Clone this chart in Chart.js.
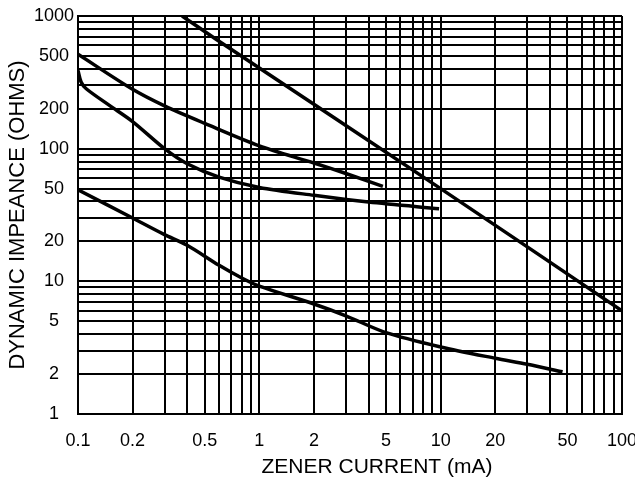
<!DOCTYPE html>
<html>
<head>
<meta charset="utf-8">
<script src="https://cdn.jsdelivr.net/npm/chart.js@4.4.0/dist/chart.umd.min.js"></script>
<style>
  html, body { margin: 0; padding: 0; background: #fff; }
  #wrap { width: 635px; height: 481px; position: relative; }
</style>
</head>
<body>
<div id="wrap"><canvas id="zener"></canvas></div>
<script>
/* current in mA, impedance in ohms */
const curveAI = [0.375, 0.62, 10, 100];
const curveAZ = [1000, 625, 50, 6];
const curveBI = [0.1, 0.2, 0.3, 0.5, 1, 2, 3, 4.8];
const curveBZ = [515, 280, 210, 155, 105, 78, 65, 52];
const curveCI = [0.1, 0.104, 0.111, 0.149, 0.2, 0.3, 0.4, 0.6, 1, 2, 4, 9.8];
const curveCZ = [389, 318, 283, 212, 160, 100, 77, 61, 51, 44.5, 39.6, 35.3];
const curveDI = [0.1, 0.2, 0.3, 0.4, 0.6, 0.8, 1, 2, 3, 5, 10, 20, 30, 47];
const curveDZ = [49, 30, 22.5, 18.7, 13.2, 10.6, 9.2, 6.75, 5.5, 4.1, 3.2, 2.63, 2.37, 2.08];

const xTickValues = [0.1, 0.2, 0.5, 1, 2, 5, 10, 20, 50, 100];
const xTickLabels = ['0.1', '0.2', '0.5', '1', '2', '5', '10', '20', '50', '100'];
const yTickValues = [1, 2, 5, 10, 20, 50, 100, 200, 500, 1000];
const yTickLabels = ['1', '2', '5', '10', '20', '50', '100', '200', '500', '1000'];

const xTitle = 'ZENER CURRENT (mA)';
const yTitle = 'DYNAMIC IMPEANCE (OHMS)';

// 1..9 per decade, for the grid
function decadeGrid(first, last) {
  const out = [];
  for (let d = first; d < last; d *= 10) {
    for (let m = 1; m < 10; m++) out.push(+(m * d).toPrecision(6));
  }
  out.push(last);
  return out;
}
const xGrid = decadeGrid(0.1, 100);
const yGrid = decadeGrid(1, 1000);

function labelFor(v, values, labels) {
  const i = values.findIndex(t => Math.abs(t - v) / t < 1e-6);
  return i < 0 ? '' : labels[i];
}

function toPoints(xs, ys) {
  return xs.map((x, i) => ({ x: x, y: ys[i] }));
}

function curve(xs, ys) {
  return {
    data: toPoints(xs, ys),
    borderColor: '#000',
    borderWidth: 3.5,
    pointRadius: 0,
    fill: false,
    tension: 0.3
  };
}

const FONT = '"Liberation Sans", Arial, sans-serif';
Chart.defaults.font.family = FONT;
Chart.defaults.color = '#000';

// x title sits right of the plot centre on the original
const xTitlePlugin = {
  id: 'xTitle',
  afterDraw(chart) {
    const { ctx, chartArea } = chart;
    ctx.save();
    ctx.font = '21px ' + FONT;
    ctx.fillStyle = '#000';
    ctx.textAlign = 'center';
    ctx.textBaseline = 'middle';
    ctx.fillText(xTitle, (chartArea.left + chartArea.right) / 2 + 27, chartArea.bottom + 53);
    ctx.restore();
  }
};

const ctx = document.getElementById('zener').getContext('2d');
const chart = new Chart(ctx, {
  type: 'line',
  data: {
    datasets: [
      curve(curveAI, curveAZ),
      curve(curveBI, curveBZ),
      curve(curveCI, curveCZ),
      curve(curveDI, curveDZ)
    ]
  },
  options: {
    responsive: true,
    maintainAspectRatio: false,
    animation: false,
    layout: { padding: { top: 16, right: 0, bottom: 0, left: 0 } },
    plugins: {
      legend: { display: false },
      tooltip: { enabled: false }
    },
    scales: {
      x: {
        type: 'logarithmic',
        min: 0.1,
        max: 100,
        afterBuildTicks: s => { s.ticks = xGrid.map(v => ({ value: v })); },
        afterFit: s => { s.height = 67; s.paddingRight = 13; },
        grid: { color: '#000', lineWidth: 2, drawTicks: false },
        border: { color: '#000', width: 2 },
        ticks: {
          autoSkip: false,
          maxRotation: 0,
          padding: 16,
          font: { size: 18 },
          callback: v => labelFor(v, xTickValues, xTickLabels)
        }
      },
      y: {
        type: 'logarithmic',
        min: 1,
        max: 1000,
        afterBuildTicks: s => { s.ticks = yGrid.map(v => ({ value: v })); },
        afterFit: s => { s.width = 78; },
        grid: { color: '#000', lineWidth: 2, drawTicks: false },
        border: { color: '#000', width: 2 },
        ticks: {
          autoSkip: false,
          padding: 4,
          crossAlign: 'center',
          font: { size: 18 },
          callback: v => labelFor(v, yTickValues, yTickLabels)
        },
        title: {
          display: true,
          text: yTitle,
          font: { size: 22 },
          padding: { top: 5, bottom: 0 }
        }
      }
    }
  },
  plugins: [xTitlePlugin]
});
</script>
</body>
</html>
